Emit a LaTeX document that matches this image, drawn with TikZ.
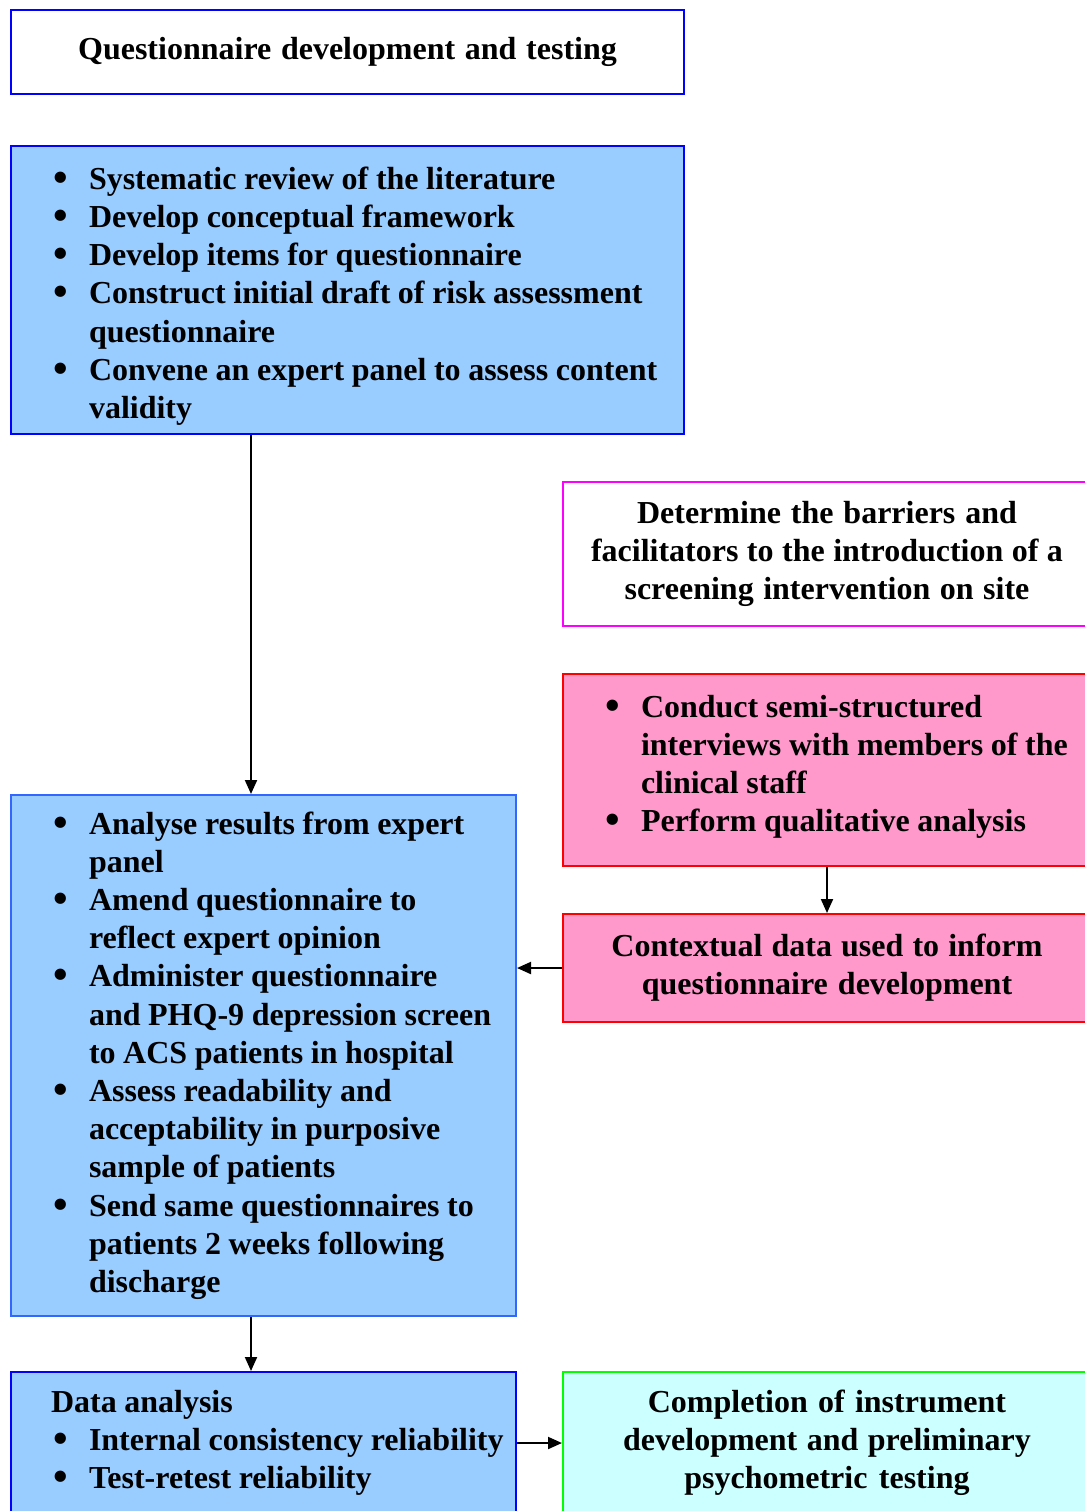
\documentclass[tikz,border=0pt]{standalone}
\usepackage{fontspec}
\setmainfont{Liberation Serif}
\usetikzlibrary{arrows.meta}

\definecolor{fillblue}{HTML}{99CCFF}
\definecolor{lineblue}{HTML}{0000FF}
\definecolor{lineblueb}{HTML}{3366FF}
\definecolor{fillpink}{HTML}{FF99CC}
\definecolor{linered}{HTML}{FF0000}
\definecolor{linemag}{HTML}{FF00FF}
\definecolor{fillcyan}{HTML}{CCFFFF}
\definecolor{linegreen}{HTML}{00FF00}

% bullet hanging in the left margin of a list paragraph
\newcommand{\bul}{\leavevmode\llap{\makebox[17.8pt][l]{\raisebox{-1pt}{\scalebox{1.3}{\textbullet}}}}}
% interword space
\newcommand{\tightspace}{\spaceskip=3.8pt plus 1pt minus 0.5pt\relax}

\tikzset{
  box/.style={draw, line width=1pt, inner sep=0pt, text width=#1,
    font=\bfseries\fontsize{16pt}{19.1pt}\selectfont,
    execute at begin node=\tightspace},
  listbox/.style={box=#1, align=left},
  centerbox/.style={box=#1, align=center},
  arr/.style={line width=1pt, -{Triangle[length=7pt,width=6pt]}},
}

\begin{document}
\begin{tikzpicture}[x=0.5pt, y=-0.5pt]
  \useasboundingbox (0,0) rectangle (1085,1511);
  \clip (0,0) rectangle (1085,1511);

  % left column
  \node[centerbox=336.5pt, draw=lineblue, minimum height=42pt] (title) at (347.5,52)
    {Questionnaire development and testing};

  \node[listbox=336.5pt, draw=lineblue, fill=fillblue, minimum height=144pt] (lit) at (347.5,290)
    {\leftskip=39pt
     \bul Systematic review of the literature\par
     \bul Develop conceptual framework\par
     \bul Develop items for questionnaire\par
     \bul Construct initial draft of risk assessment\\ questionnaire\par
     \bul Convene an expert panel to assess content\\ validity\par\kern-6pt};

  \node[listbox=252.5pt, draw=lineblueb, fill=fillblue, minimum height=260.5pt] (pilot) at (263.5,1055.5)
    {\leftskip=39pt
     \bul Analyse results from expert\\ panel\par
     \bul Amend questionnaire to\\ reflect expert opinion\par
     \bul Administer questionnaire\\ and PHQ-9 depression screen\\ to ACS patients in hospital\par
     \bul Assess readability and\\ acceptability in purposive\\ sample of patients\par
     \bul Send same questionnaires to\\ patients 2 weeks following\\ discharge\par};

  \node[listbox=252.5pt, draw=lineblue, fill=fillblue, minimum height=71pt] (analysis) at (263.5,1443)
    {\leftskip=39pt
     \hspace*{-19pt}Data analysis\par
     \bul Internal consistency reliability\par
     \bul Test-retest reliability\par};

  % right column
  \node[centerbox=264pt, draw=linemag, minimum height=72pt] (barriers) at (827,554)
    {Determine the barriers and\\ facilitators to the introduction of a\\ screening intervention on site};

  \node[listbox=264pt, draw=linered, fill=fillpink, minimum height=96pt] (interviews) at (827,770)
    {\leftskip=39pt
     \bul Conduct semi-structured\\ interviews with members of the\\ clinical staff\par
     \bul Perform qualitative analysis\par\kern3pt};

  \node[centerbox=264pt, draw=linered, fill=fillpink, minimum height=54pt] (context) at (827,968)
    {Contextual data used to inform\\ questionnaire development};

  \node[centerbox=264pt, draw=linegreen, fill=fillcyan, minimum height=71pt] (done) at (827,1443)
    {Completion of instrument\\ development and preliminary\\ psychometric testing};

  % connectors
  \coordinate (ax) at (251,0);
  \draw[arr] (lit.south -| ax) -- (pilot.north -| ax);
  \draw[arr] (pilot.south -| ax) -- (analysis.north -| ax);
  \draw[arr] (interviews.south) -- (context.north);
  \draw[arr] (context.west) -- (pilot.east |- context.west);
  \draw[arr] (analysis.east) -- (done.west |- analysis.east);
\end{tikzpicture}
\end{document}
